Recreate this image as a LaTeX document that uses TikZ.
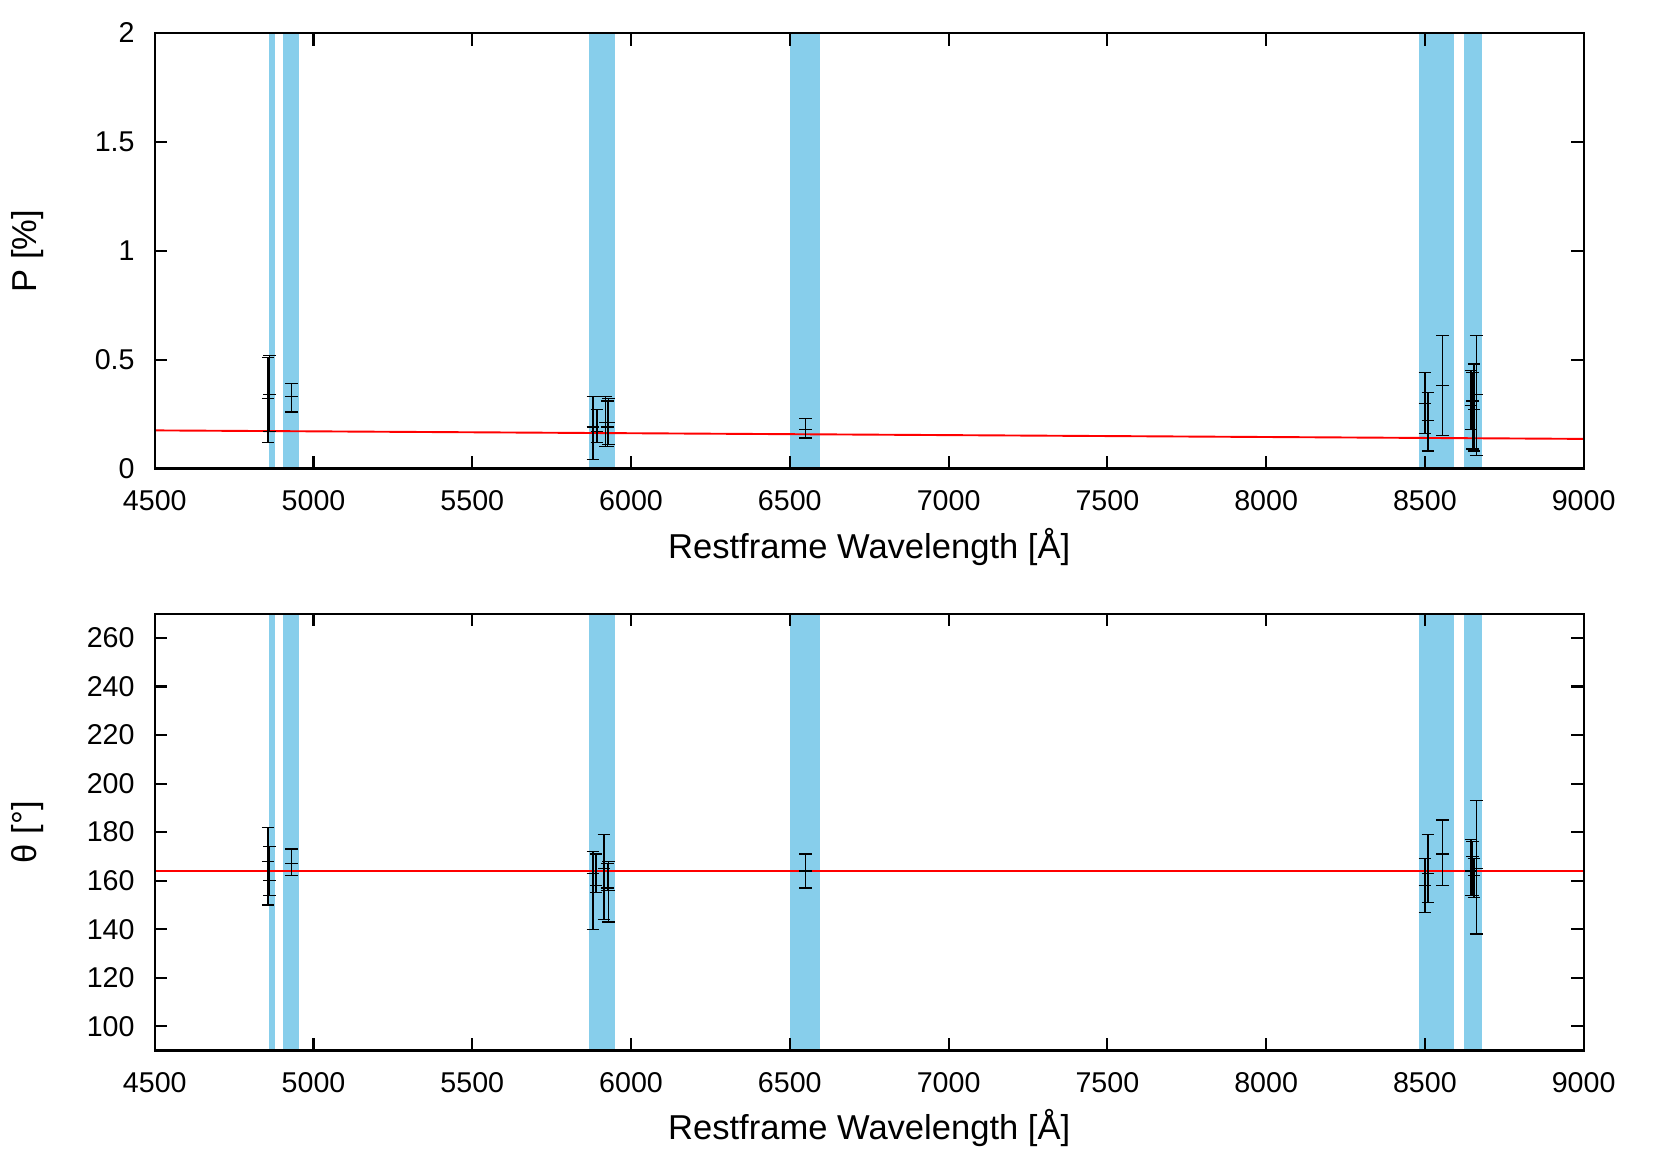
\documentclass[tikz,border=0pt]{standalone}
\usepackage{fontspec}
\setmainfont{Liberation Sans}
\begin{document}
\begin{tikzpicture}[x=0.5pt,y=-0.5pt,
  declare function={px(\l)=146+(\l-4500)*0.29956; py(\p)=442-205.5*\p; ty(\t)=991-(\t-90)*2.2889;},
  band/.style={fill={rgb,255:red,135;green,206;blue,235},draw=none},
  ebar/.style={black,line width=0.6pt},
  fitline/.style={red,line width=0.9pt},
  frame/.style={black,line width=1pt},
  ticklab/.style={font=\fontsize{13.5}{15}\selectfont},
  axlab/.style={font=\fontsize{16.3}{19}\selectfont}]
\useasboundingbox (0,0) rectangle (1567,1097);
% bands
\foreach \a/\b in {4860/4880,4904/4954,5869/5949,6500/6596,8482/8592,8622/8679}{
  \fill[band] ({px(\a)},31) rectangle ({px(\b)},442);
  \fill[band] ({px(\a)},579) rectangle ({px(\b)},991);
}
% fit lines
\draw[fitline] ({px(4500)},{py(0.175)}) coordinate (f1) -- ({px(9000)},{py(0.136)}) coordinate (f2);
\draw[fitline] ({px(4500)},{ty(163.8)}) coordinate (g1) -- ({px(9000)},{ty(163.8)}) coordinate (g2);
% top error bars
\foreach \l/\v/\lo/\hi in {4857/0.32/0.12/0.51,4862/0.34/0.17/0.52,4930/0.33/0.26/0.39,
 5880/0.19/0.04/0.33,5893/0.17/0.12/0.27,5920/0.21/0.10/0.33,5930/0.21/0.11/0.32,5925/0.19/0.10/0.31,
 6550/0.18/0.14/0.23,8500/0.30/0.16/0.44,8510/0.22/0.08/0.35,8555/0.38/0.15/0.61,
 8645/0.29/0.18/0.45,8655/0.27/0.08/0.48,8662/0.34/0.06/0.61,8650/0.31/0.09/0.44}{
  \draw[ebar] ({px(\l)},{py(\lo)}) -- ({px(\l)},{py(\hi)});
  \draw[ebar] ({px(\l)-6},{py(\lo)}) -- ({px(\l)+6},{py(\lo)});
  \draw[ebar] ({px(\l)-6},{py(\hi)}) -- ({px(\l)+6},{py(\hi)});
  \draw[ebar] ({px(\l)-6},{py(\v)}) -- ({px(\l)+6},{py(\v)});
}
% bottom error bars
\foreach \l/\v/\lo/\hi in {4857/168/150/182,4862/160/154/174,4930/167/162/173,
 5880/163/140/172,5890/158/155/171,5915/165/144/179,5930/156/143/168,5925/157/156/167,
 6550/164/157/171,8500/158/147/169,8510/163/151/179,8555/171/158/185,
 8645/164/154/177,8650/170/154/176,8662/165/138/193,8655/162/153/169}{
  \draw[ebar] ({px(\l)},{ty(\lo)}) -- ({px(\l)},{ty(\hi)});
  \draw[ebar] ({px(\l)-6},{ty(\lo)}) -- ({px(\l)+6},{ty(\lo)});
  \draw[ebar] ({px(\l)-6},{ty(\hi)}) -- ({px(\l)+6},{ty(\hi)});
  \draw[ebar] ({px(\l)-6},{ty(\v)}) -- ({px(\l)+6},{ty(\v)});
}
% frames and ticks
\foreach \t/\b in {31/442,579/991}{
  \draw[frame] (146,\t) rectangle (1494,\b);
  \foreach \l in {4500,5000,...,9000}{
    \draw[frame] ({px(\l)},\b) -- ++(0,-12);
    \draw[frame] ({px(\l)},\t) -- ++(0,12);
    \node[ticklab,anchor=north] at ({px(\l)},{\b+14}) {\l};
  }
}
\foreach \p/\s in {0/0,0.5/0.5,1/1,1.5/1.5,2/2}{
  \draw[frame] (146,{py(\p)}) -- ++(12,0);
  \draw[frame] (1494,{py(\p)}) -- ++(-12,0);
  \node[ticklab,anchor=east] at (134,{py(\p)}) {\s};
}
\foreach \t in {100,120,...,260}{
  \draw[frame] (146,{ty(\t)}) -- ++(12,0);
  \draw[frame] (1494,{ty(\t)}) -- ++(-12,0);
  \node[ticklab,anchor=east] at (134,{ty(\t)}) {\t};
}
\node[axlab] (xl1) at (820,516) {Restframe Wavelength [Å]};
\node[axlab] (xl2) at (820,1064) {Restframe Wavelength [Å]};
\node[axlab,rotate=90] (yl1) at (26,237) {P [\%]};
\node[axlab,rotate=90] (yl2) at (26,785) {θ [°]};
\end{tikzpicture}
\end{document}
